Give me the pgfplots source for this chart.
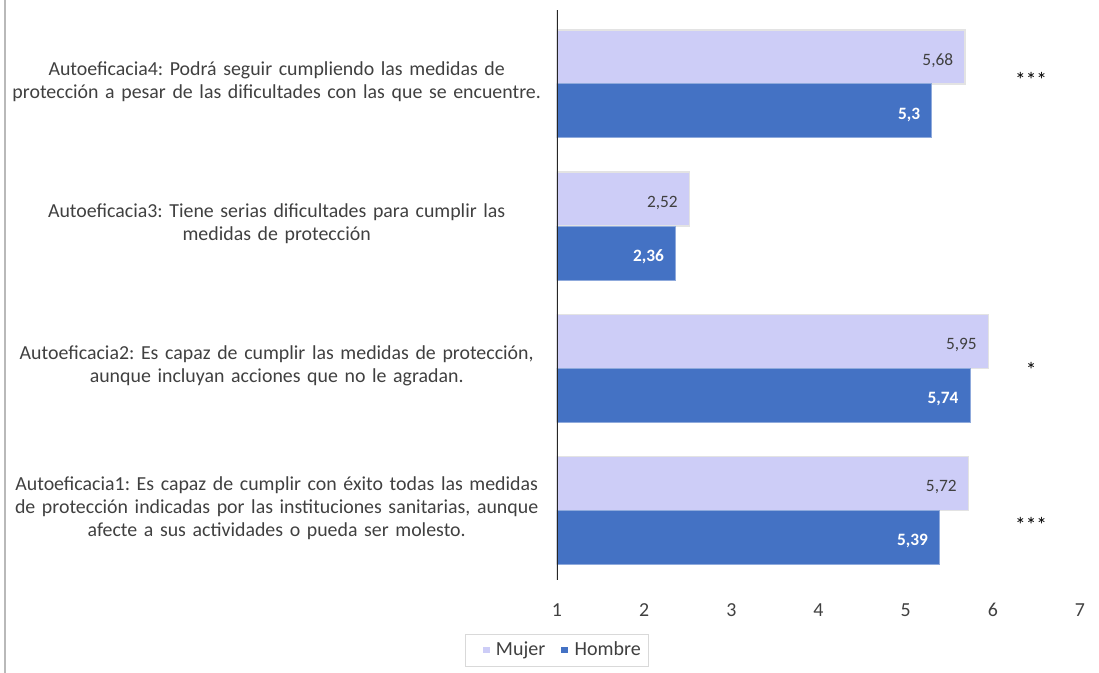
\documentclass[border=0pt]{standalone}
\usepackage{pgfplots}
\pgfplotsset{compat=1.18}
\usepackage{pgfplotstable}
\usepackage{fontspec}
\setmainfont{Carlito}
\definecolor{mujer}{HTML}{CDCDF7}
\definecolor{hombre}{HTML}{4472C4}
\definecolor{txt}{HTML}{404040}

\pgfplotstableread{
y mujer mlab hombre hlab
0 5.72 5,72 5.39 5,39
1 5.95 5,95 5.74 5,74
2 2.52 2,52 2.36 2,36
3 5.68 5,68 5.30 5,3
}\data

\begin{document}
\frenchspacing
\begin{tikzpicture}[font=\fontsize{14.9}{17.25}\selectfont]
\useasboundingbox (-417.75pt,-69.75pt) rectangle (406.5pt,435pt);
\draw[gray!55, line width=1.2pt] (-414pt,-69.75pt) -- (-414pt,435pt);
\begin{axis}[
  at={(0,0)}, anchor=south west,
  scale only axis, width=392.25pt, height=427.5pt,
  xbar, bar width=0.38,
  xmin=1, xmax=7, ymin=-0.49, ymax=3.52,
  xtick={1,2,3,4,5,6,7},
  ytick={0,1,2,3},
  yticklabels={
    {Autoeficacia1: Es capaz de cumplir con éxito todas las medidas\\de protección indicadas por las instituciones sanitarias, aunque\\afecte a sus actividades o pueda ser molesto.},
    {Autoeficacia2: Es capaz de cumplir las medidas de protección,\\aunque incluyan acciones que no le agradan.},
    {Autoeficacia3: Tiene serias dificultades para cumplir las\\medidas de protección},
    {Autoeficacia4: Podrá seguir cumpliendo las medidas de\\protección a pesar de las dificultades con las que se encuentre.}
  },
  yticklabel style={text width=400pt, align=center, anchor=east, inner sep=0pt, xshift=-5.75pt, yshift=1.5pt, text=txt, font=\fontsize{14.9}{17.25}\selectfont},
  xticklabel style={text=txt, yshift=-14pt, font=\fontsize{14.9}{17}\selectfont},
  /pgf/number format/assume math mode=true,
  axis line style={draw=none},
  tick style={draw=none},
  legend style={at={(rel axis cs:0,-0.1228)}, anchor=center, legend columns=2,
    draw=gray!30, text=txt, inner xsep=4pt, inner ysep=4pt,
    font=\fontsize{15}{17}\selectfont,
    /tikz/every even column/.append style={column sep=1pt}},
  legend image code/.code={\path[draw=none,fill=none] (-9pt,0pt) rectangle (8pt,0pt);\fill[#1,draw=none] (0pt,-2.6pt) rectangle (5.25pt,2.6pt);},
]
\addplot[fill=mujer, draw=gray!22, line width=1pt, bar shift=0.19,
  nodes near coords, point meta=explicit symbolic,
  nodes near coords style={anchor=east, xshift=-5pt, yshift=-3pt, text=txt, font=\fontsize{13}{14}\selectfont}]
  table[x=mujer, y=y, meta=mlab] {\data};
\addlegendentry{Mujer}
\addplot[fill=hombre, draw=hombre!60!white, line width=0.8pt, bar shift=-0.19,
  nodes near coords, point meta=explicit symbolic,
  nodes near coords style={anchor=east, xshift=-5pt, yshift=-3pt, text=white, font=\fontsize{13}{14}\selectfont\bfseries}]
  table[x=hombre, y=y, meta=hlab] {\data};
\addlegendentry{Hombre}
\draw[black!85, line width=1.5pt] (rel axis cs:0,0) -- (rel axis cs:0,1);
\node[font=\fontsize{16}{18}\selectfont] at (axis cs:6.44,3.03) {***};
\node[font=\fontsize{16}{18}\selectfont] at (axis cs:6.44,0.99) {*};
\node[font=\fontsize{16}{18}\selectfont] at (axis cs:6.44,-0.1) {***};
\end{axis}
\end{tikzpicture}
\end{document}
